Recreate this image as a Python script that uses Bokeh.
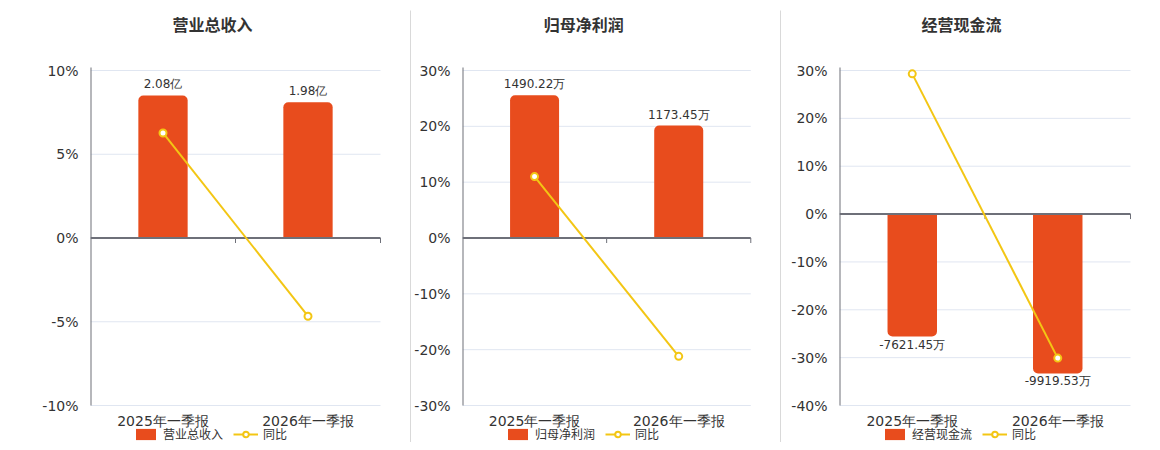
from bokeh.plotting import figure
from bokeh.models import (Range1d, FixedTicker, PrintfTickFormatter, Label,
                          Legend, LegendItem, ColumnDataSource)
from bokeh.layouts import row
from bokeh.embed import file_html
from bokeh.resources import INLINE
from bokeh.core.properties import value

# ---------------- data ----------------
categories = ["2025年一季报", "2026年一季报"]
titles = ["营业总收入", "归母净利润", "经营现金流"]
units = ["亿", "万", "万"]
yoy_name = "同比"

revenue = [2.08, 1.98]            # 亿
revenue_yoy = [6.27, -4.67]       # %
profit = [1490.22, 1173.45]       # 万
profit_yoy = [11.0, -21.2]        # %
cashflow = [-7621.45, -9919.53]   # 万
cashflow_yoy = [29.3, -30.1]      # %

pct_ticks_1 = [-10, -5, 0, 5, 10]
pct_ticks_2 = [-30, -20, -10, 0, 10, 20, 30]
pct_ticks_3 = [-40, -30, -20, -10, 0, 10, 20, 30]

bar_range_1 = (-2.444, 2.444)
bar_range_2 = (-1748.0, 1748.0)
bar_range_3 = (-11913.0, 8935.0)

# ---------------- style ----------------
BAR = "#e84c1d"
LINE = "#f3c614"
AXIS = "#6e7079"
GRID = "#e0e6f1"
SEP = "#b4b4b4"
TXT = "#333333"
FONT = "DejaVu Sans"
CJK = "Noto Sans CJK SC"
H = 442          # figure height (px)
TOP, BOT = 70, 405   # pixel rows of the top / bottom percentage ticks


def make_panel(title, vals, yoy, unit, yticks, bar_range, width, left,
               plot_w, separator):
    n = len(categories)
    xs = [i + 0.5 for i in range(n)]
    bounds = [i + 1 for i in range(n)]
    ymin, ymax = min(yticks), max(yticks)
    ppu = (BOT - TOP) / (ymax - ymin)          # px per percent
    y_start = ymin - (H - BOT) / ppu
    y_end = ymax + TOP / ppu
    b0, b1 = bar_range
    bppu = (BOT - TOP) / (b1 - b0)
    x_end = n * (width - left) / plot_w
    xppu = plot_w / n

    p = figure(width=width, height=H, x_range=Range1d(0, x_end),
               y_range=Range1d(y_start, y_end),
               output_backend="svg", toolbar_location=None, tools="",
               min_border_left=left, min_border_right=0,
               min_border_top=0, min_border_bottom=0)
    p.extra_y_ranges = {"bar": Range1d(b0 - (H - BOT) / bppu, b1 + TOP / bppu)}
    p.outline_line_color = None
    p.xaxis.visible = False
    p.grid.visible = False

    p.yaxis.ticker = FixedTicker(ticks=yticks)
    p.yaxis.formatter = PrintfTickFormatter(format="%d%%")
    p.yaxis.axis_line_color = None
    p.yaxis.major_tick_line_color = None
    p.yaxis.minor_tick_line_color = None
    p.yaxis.major_label_text_font_size = "14px"
    p.yaxis.major_label_text_color = TXT
    p.yaxis.major_label_text_font = FONT
    p.yaxis.major_label_standoff = 6

    # grid lines and axis line
    p.segment(x0=[0] * len(yticks), y0=yticks, x1=[n] * len(yticks), y1=yticks,
              line_color=GRID, line_width=1)
    p.segment(x0=[0], y0=[ymin], x1=[0], y1=[ymax + 3 / ppu],
              line_color=AXIS, line_width=2)

    src = ColumnDataSource(dict(
        x=xs,
        top=[max(v, 0) for v in vals],
        bottom=[min(v, 0) for v in vals],
        val=vals,
        lab=[f"{v:.2f}{unit}" for v in vals],
        yoy=yoy,
        cat=categories,
        cy=[ymin - 15 / ppu] * n,
    ))
    neg = all(v < 0 for v in vals)
    radius = (0, 0, 5, 5) if neg else (5, 5, 0, 0)
    bars = p.vbar(x="x", top="top", bottom="bottom", width=0.34, source=src,
                  y_range_name="bar", fill_color=BAR, line_color=None,
                  border_radius=radius)

    # zero line with category boundary ticks
    p.segment(x0=[0], y0=[0], x1=[n], y1=[0], line_color=AXIS, line_width=2)
    p.segment(x0=bounds, y0=[0] * n, x1=bounds, y1=[-5 / ppu] * n,
              line_color=AXIS, line_width=1)

    # value labels on bars
    p.text(x="x", y="val", text="lab", source=src, y_range_name="bar",
           text_align="center",
           text_baseline="top" if neg else "bottom",
           y_offset=1 if neg else -4,
           text_font_size="12px", text_color=TXT, text_font=value(FONT))

    # category labels
    p.text(x="x", y="cy", text="cat", source=src, text_align="center",
           text_baseline="middle", text_font_size="14px", text_color=TXT,
           text_font=value(FONT))

    # yoy line
    ln = p.line(x="x", y="yoy", source=src, line_color=LINE, line_width=2)
    sc = p.scatter(x="x", y="yoy", source=src, marker="circle", size=7,
                   fill_color="white", line_color=LINE, line_width=2)

    # title
    p.add_layout(Label(x=82 / xppu, y=y_end - 23 / ppu, text=title,
                       text_font_size="16px", text_font_style="bold",
                       text_color=TXT, text_font=CJK, text_align="left",
                       text_baseline="middle"))

    # separator at the right edge
    if separator:
        p.segment(x0=[x_end], y0=[y_end - 10 / ppu], x1=[x_end], y1=[y_start],
                  line_color=SEP, line_width=2)

    legend = Legend(items=[LegendItem(label=title, renderers=[bars]),
                           LegendItem(label=yoy_name, renderers=[ln, sc])],
                    location=(43, 0), orientation="horizontal",
                    padding=0, margin=0, spacing=10,
                    glyph_width=25, glyph_height=14, label_height=14,
                    label_standoff=5,
                    border_line_color=None, background_fill_alpha=0,
                    label_text_font_size="12px", label_text_color=TXT,
                    label_text_font=CJK)
    p.add_layout(legend, "center")
    return p


p1 = make_panel(titles[0], revenue, revenue_yoy, units[0], pct_ticks_1,
                bar_range_1, 411, 90, 290, True)
p2 = make_panel(titles[1], profit, profit_yoy, units[1], pct_ticks_2,
                bar_range_2, 370, 48, 291, True)
p3 = make_panel(titles[2], cashflow, cashflow_yoy, units[2], pct_ticks_3,
                bar_range_3, 371, 58, 291, False)

layout = row(p1, p2, p3)
open("out.html", "w").write(file_html(layout, INLINE))
